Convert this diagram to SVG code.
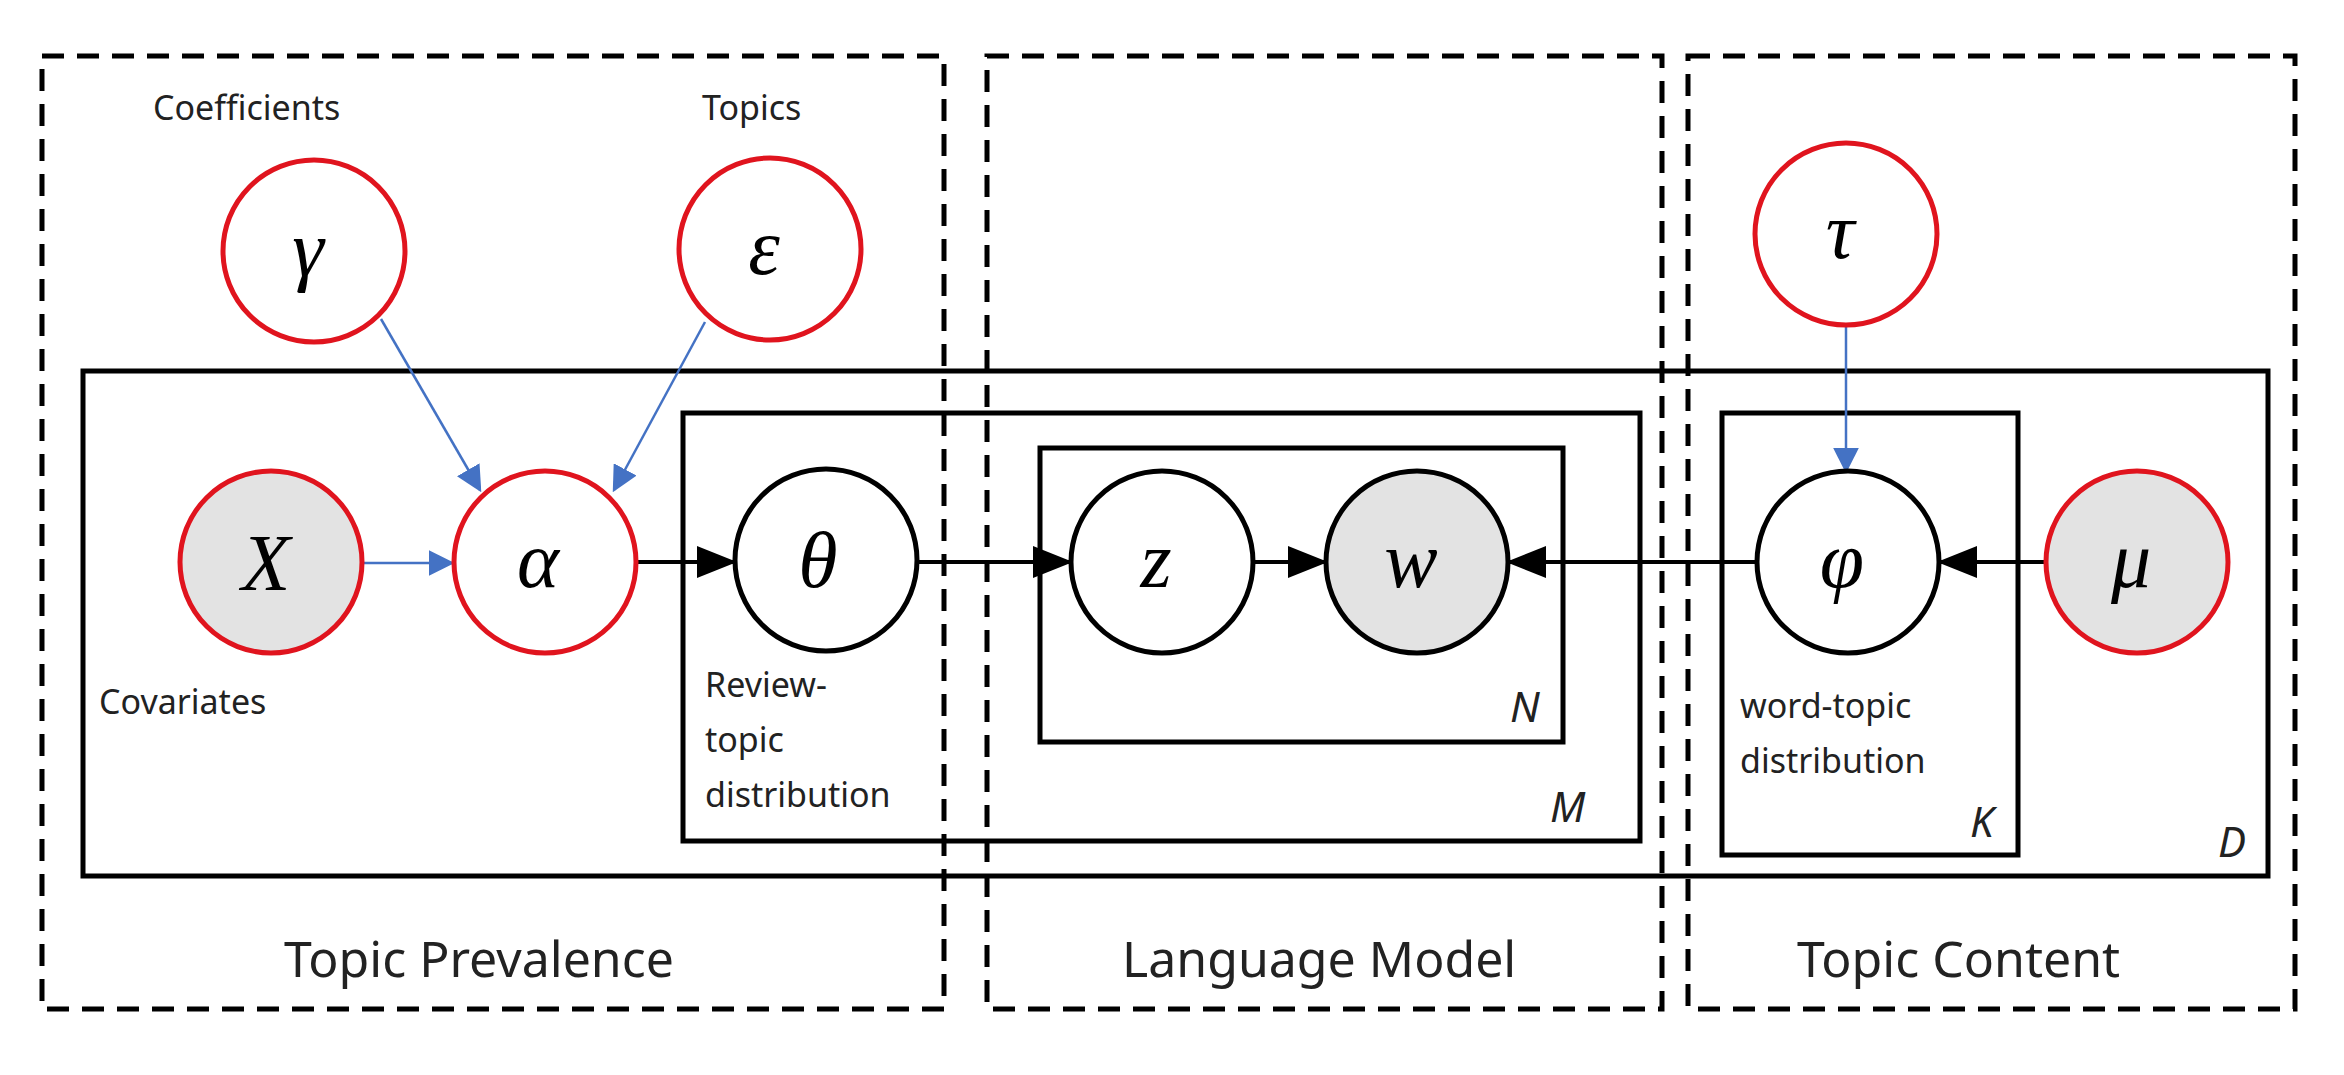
<svg xmlns="http://www.w3.org/2000/svg" width="2344" height="1075" viewBox="0 0 2344 1075">
<style>
.dash{fill:none;stroke:#000;stroke-width:5;stroke-dasharray:22 13}
.plate{fill:none;stroke:#000;stroke-width:5}
.red{fill:#fff;stroke:#e0141e;stroke-width:5}
.redg{fill:#e3e3e3;stroke:#e0141e;stroke-width:5}
.blk{fill:#fff;stroke:#000;stroke-width:5}
.blkg{fill:#e3e3e3;stroke:#000;stroke-width:5}
.g{font-family:"Liberation Serif",serif;font-style:italic;font-size:80px;text-anchor:middle;fill:#000}
.t{font-family:"Noto Sans","Open Sans",sans-serif;font-size:34px;fill:#222}
.big{font-family:"Noto Sans","Open Sans",sans-serif;font-size:50px;fill:#222}
.p{font-family:"Noto Sans","Open Sans",sans-serif;font-style:italic;font-size:42px;fill:#222}
.bl{stroke:#4472c4;stroke-width:2.5;fill:none}
.bk{stroke:#000;stroke-width:4;fill:none}
</style>
<defs>
<marker id="ab" markerWidth="10" markerHeight="10" refX="9" refY="5" orient="auto" markerUnits="userSpaceOnUse" viewBox="0 0 10 10"><path d="M0,0L10,5L0,10z" fill="#4472c4"/></marker>
<marker id="ak" markerWidth="10" markerHeight="10" refX="9" refY="5" orient="auto" viewBox="0 0 10 10" markerUnits="strokeWidth"><path d="M0,1L10,5L0,9z" fill="#000"/></marker>
<marker id="ab2" viewBox="0 0 10 10" refX="9" refY="5" markerWidth="26" markerHeight="26" orient="auto" markerUnits="userSpaceOnUse"><path d="M0,0L10,5L0,10z" fill="#4472c4"/></marker>
</defs>
<rect width="2344" height="1075" fill="#fff"/>
<g id="regions">
<rect class="dash" x="42" y="56" width="902" height="953"/>
<rect class="dash" x="987" y="56" width="675" height="953"/>
<rect class="dash" x="1688" y="56" width="607" height="953"/>
<text class="big" x="284" y="977">Topic Prevalence</text>
<text class="big" x="1122" y="977">Language Model</text>
<text class="big" x="1797" y="977">Topic Content</text>
</g>
<g id="plates">
<rect class="plate" x="83" y="371" width="2185" height="505"/>
<rect class="plate" x="683" y="413" width="957" height="428"/>
<rect class="plate" x="1040" y="448" width="523" height="294"/>
<rect class="plate" x="1722" y="413" width="296" height="442"/>
<text class="p" x="1510" y="722">N</text>
<text class="p" x="1550" y="822">M</text>
<text class="p" x="1970" y="837">K</text>
<text class="p" x="2218" y="857">D</text>
</g>
<g id="connectors">
<line class="bl" x1="381" y1="319" x2="480" y2="490" marker-end="url(#ab2)"/>
<line class="bl" x1="705" y1="322" x2="614" y2="490" marker-end="url(#ab2)"/>
<line class="bl" x1="364" y1="563" x2="452" y2="563" marker-end="url(#ab2)"/>
<line class="bl" x1="1846" y1="325" x2="1846" y2="471" marker-end="url(#ab2)"/>
<line class="bk" x1="638" y1="562" x2="733" y2="562" marker-end="url(#ak)"/>
<line class="bk" x1="918" y1="562" x2="1069" y2="562" marker-end="url(#ak)"/>
<line class="bk" x1="1254" y1="562" x2="1324" y2="562" marker-end="url(#ak)"/>
<line class="bk" x1="1756" y1="562" x2="1510" y2="562" marker-end="url(#ak)"/>
<line class="bk" x1="2045" y1="562" x2="1941" y2="562" marker-end="url(#ak)"/>
</g>
<g id="gamma"><circle class="red" cx="314" cy="251" r="91"/><text class="g" x="308" y="276">γ</text><text class="t" x="153" y="120">Coefficients</text></g>
<g id="epsilon"><circle class="red" cx="770" cy="249" r="91"/><text class="g" x="764" y="274">ε</text><text class="t" x="702" y="120">Topics</text></g>
<g id="tau"><circle class="red" cx="1846" cy="234" r="91"/><text class="g" x="1840" y="258">τ</text></g>
<g id="X"><circle class="redg" cx="271" cy="562" r="91"/><text class="g" x="266" y="590">X</text><text class="t" x="99" y="714">Covariates</text></g>
<g id="alpha"><circle class="red" cx="545" cy="562" r="91"/><text class="g" x="538" y="587">α</text></g>
<g id="theta"><circle class="blk" cx="826" cy="560" r="91"/><text class="g" x="818" y="587">θ</text>
<text class="t" x="705" y="697">Review-</text><text class="t" x="705" y="752">topic</text><text class="t" x="705" y="807">distribution</text></g>
<g id="z"><circle class="blk" cx="1162" cy="562" r="91"/><text class="g" x="1156" y="587">z</text></g>
<g id="w"><circle class="blkg" cx="1417" cy="562" r="91"/><text class="g" x="1411" y="587">w</text></g>
<g id="phi"><circle class="blk" cx="1848" cy="562" r="91"/><text class="g" x="1842" y="587">φ</text>
<text class="t" x="1740" y="718">word-topic</text><text class="t" x="1740" y="773">distribution</text></g>
<g id="mu"><circle class="redg" cx="2137" cy="562" r="91"/><text class="g" x="2131" y="587">μ</text></g>
</svg>
